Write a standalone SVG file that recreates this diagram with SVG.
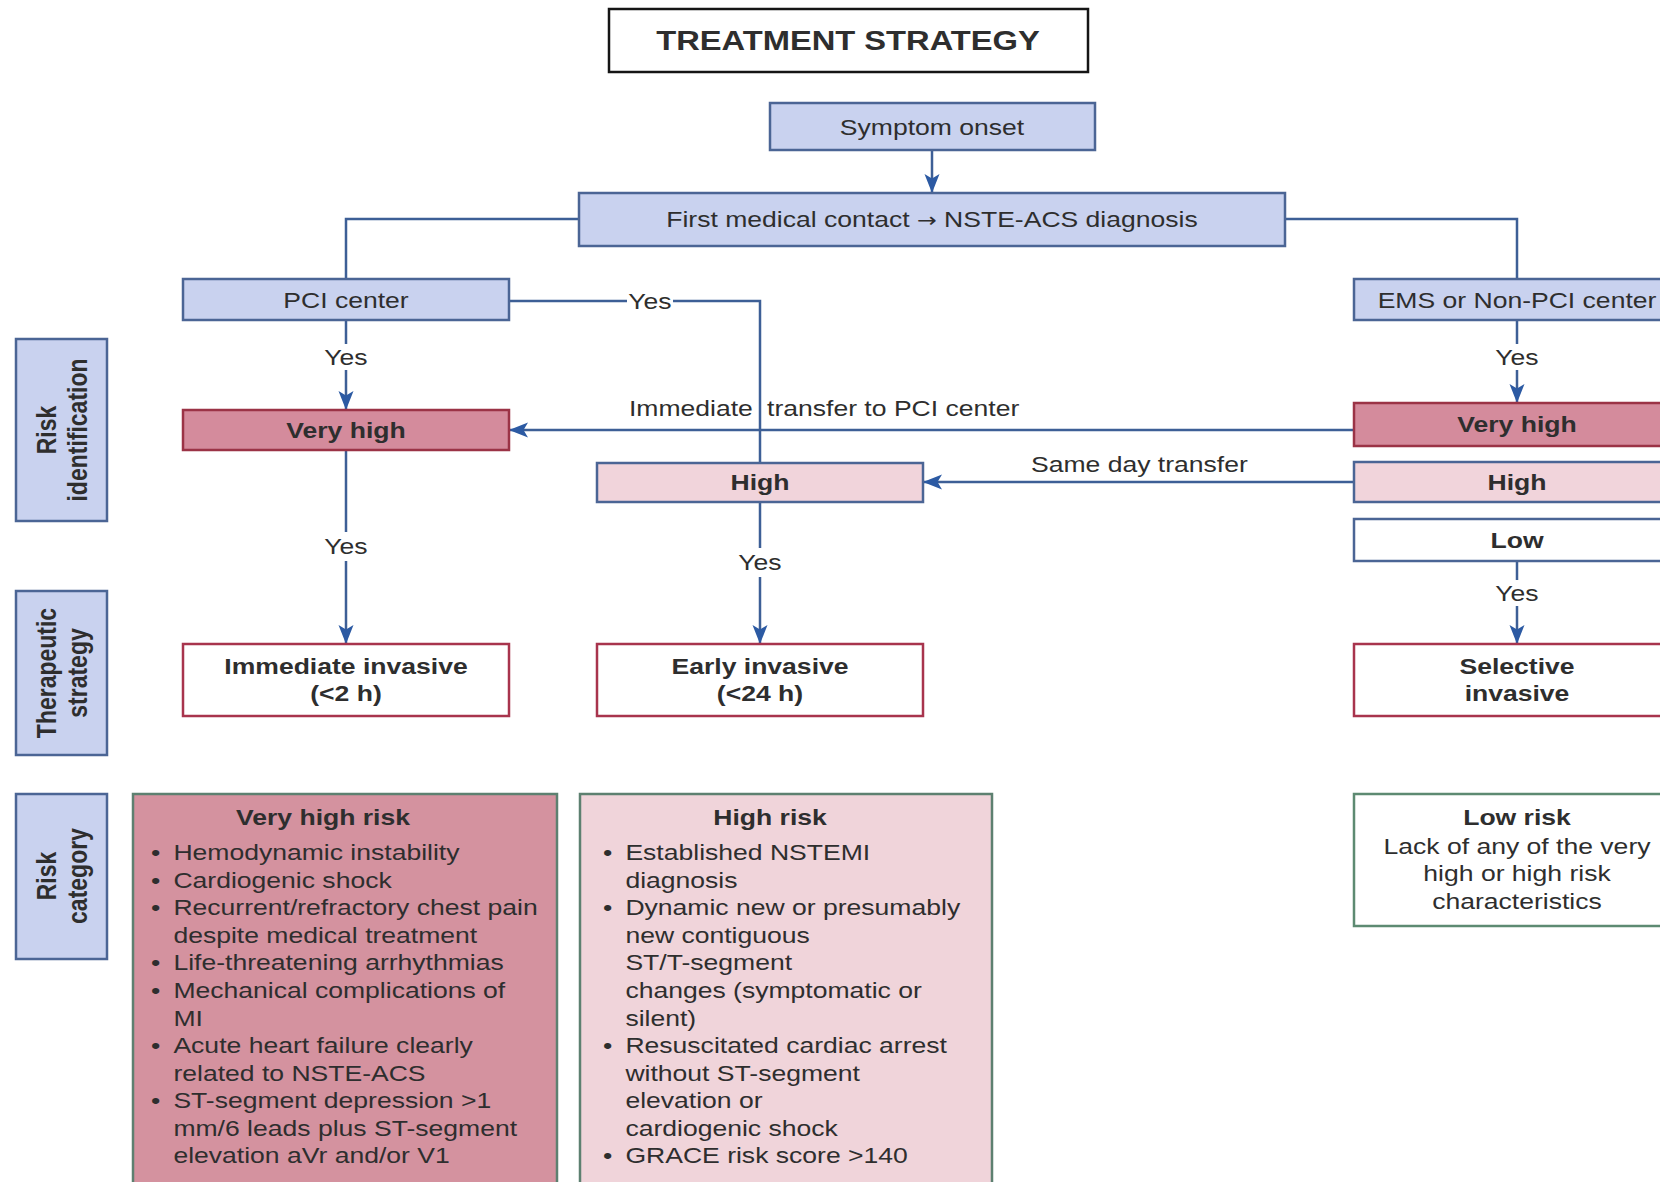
<svg xmlns="http://www.w3.org/2000/svg" width="1660" height="1182" viewBox="0 0 1660 1182">
<defs>
<style>
text{font-family:"Liberation Sans",Arial,Helvetica,sans-serif;fill:#2e2e2e;font-size:22.5px}
.c{text-anchor:middle}
.b{font-weight:bold}
.bx{stroke-width:2.5}
.blue{fill:#c9d2ef;stroke:#4b6595}
.vh{fill:#d48b9c;stroke:#9b3346}
.hi{fill:#f1d4db;stroke:#4b6595}
.lo{fill:#ffffff;stroke:#4b6595}
.inv{fill:#ffffff;stroke:#a8344d}
.cvh{fill:#d4929f;stroke:#5d8070}
.chi{fill:#f0d4da;stroke:#5d8070}
.clo{fill:#ffffff;stroke:#5d8a72}
.ln{fill:none;stroke:#3d5f96;stroke-width:2.5}
.side{font-weight:bold;font-size:23px}
.arw{font-family:"DejaVu Sans",sans-serif;font-size:20px}
</style>
<marker id="ah" markerUnits="userSpaceOnUse" markerWidth="20" markerHeight="16" refX="19" refY="8" orient="auto" viewBox="0 0 20 16">
<path d="M0,0.5 L19,8 L0,15.5 L4.5,8 z" fill="#2c5aa3"/>
</marker>
</defs>
<rect width="1660" height="1182" fill="#ffffff"/>

<g id="connectors">
<line class="ln" x1="932" y1="150" x2="932" y2="193" marker-end="url(#ah)"/>
<polyline class="ln" points="579,219 346,219 346,279"/>
<polyline class="ln" points="1285,219 1517,219 1517,279"/>
<line class="ln" x1="346" y1="320" x2="346" y2="344"/>
<line class="ln" x1="346" y1="370" x2="346" y2="410" marker-end="url(#ah)"/>
<line class="ln" x1="509" y1="301" x2="627" y2="301"/>
<polyline class="ln" points="673,301 760,301 760,463"/>
<line class="ln" x1="1354" y1="430" x2="509" y2="430" marker-end="url(#ah)"/>
<line class="ln" x1="1354" y1="482" x2="923" y2="482" marker-end="url(#ah)"/>
<line class="ln" x1="346" y1="450" x2="346" y2="532"/>
<line class="ln" x1="346" y1="561" x2="346" y2="644" marker-end="url(#ah)"/>
<line class="ln" x1="760" y1="502" x2="760" y2="548"/>
<line class="ln" x1="760" y1="577" x2="760" y2="644" marker-end="url(#ah)"/>
<line class="ln" x1="1517" y1="320" x2="1517" y2="344"/>
<line class="ln" x1="1517" y1="370" x2="1517" y2="403" marker-end="url(#ah)"/>
<line class="ln" x1="1517" y1="561" x2="1517" y2="580"/>
<line class="ln" x1="1517" y1="606" x2="1517" y2="644" marker-end="url(#ah)"/>
<text class="c" transform="translate(346 0) scale(1.18 1)" x="0" y="365">Yes</text>
<text class="c" transform="translate(650 0) scale(1.18 1)" x="0" y="309">Yes</text>
<text class="c" transform="translate(346 0) scale(1.18 1)" x="0" y="554">Yes</text>
<text class="c" transform="translate(760 0) scale(1.18 1)" x="0" y="570">Yes</text>
<text class="c" transform="translate(1517 0) scale(1.18 1)" x="0" y="365">Yes</text>
<text class="c" transform="translate(1517 0) scale(1.18 1)" x="0" y="601">Yes</text>
<text transform="translate(629 0) scale(1.18 1)" y="416"><tspan x="0">Immediate</tspan><tspan x="117">transfer to PCI center</tspan></text>
<text transform="translate(1031 0) scale(1.18 1)" x="0" y="472">Same day transfer</text>
</g>

<g id="title">
<rect x="609" y="9" width="479" height="63" fill="#ffffff" stroke="#151515" stroke-width="2.5"/>
<text class="c b" transform="translate(848 0) scale(1.18 1)" x="0" y="50" style="font-size:27.7px">TREATMENT STRATEGY</text>
</g>

<g id="symptom-onset">
<rect class="bx blue" x="770" y="103" width="325" height="47"/>
<text class="c" transform="translate(932 0) scale(1.18 1)" x="0" y="135">Symptom onset</text>
</g>

<g id="first-contact">
<rect class="bx blue" x="579" y="193" width="706" height="53"/>
<text class="c" transform="translate(932 0) scale(1.18 1)" x="0" y="227">First medical contact <tspan class="arw">→</tspan> NSTE-ACS diagnosis</text>
</g>

<g id="pci-center">
<rect class="bx blue" x="183" y="279" width="326" height="41"/>
<text class="c" transform="translate(346 0) scale(1.18 1)" x="0" y="308">PCI center</text>
</g>

<g id="ems-center">
<rect class="bx blue" x="1354" y="279" width="320" height="41"/>
<text class="c" transform="translate(1517 0) scale(1.18 1)" x="0" y="308">EMS or Non-PCI center</text>
</g>

<g id="very-high-pci">
<rect class="bx vh" x="183" y="410" width="326" height="40"/>
<text class="c b" transform="translate(346 0) scale(1.18 1)" x="0" y="438">Very high</text>
</g>

<g id="high-mid">
<rect class="bx hi" x="597" y="463" width="326" height="39"/>
<text class="c b" transform="translate(760 0) scale(1.18 1)" x="0" y="490">High</text>
</g>

<g id="very-high-ems">
<rect class="bx vh" x="1354" y="403" width="320" height="43"/>
<text class="c b" transform="translate(1517 0) scale(1.18 1)" x="0" y="432">Very high</text>
</g>

<g id="high-ems">
<rect class="bx hi" x="1354" y="462" width="320" height="40"/>
<text class="c b" transform="translate(1517 0) scale(1.18 1)" x="0" y="490">High</text>
</g>

<g id="low-ems">
<rect class="bx lo" x="1354" y="519" width="320" height="42"/>
<text class="c b" transform="translate(1517 0) scale(1.18 1)" x="0" y="548">Low</text>
</g>

<g id="immediate-invasive">
<rect class="bx inv" x="183" y="644" width="326" height="72"/>
<text class="c b" transform="translate(346 0) scale(1.18 1)"><tspan x="0" y="674">Immediate invasive</tspan><tspan x="0" y="701">(&lt;2 h)</tspan></text>
</g>

<g id="early-invasive">
<rect class="bx inv" x="597" y="644" width="326" height="72"/>
<text class="c b" transform="translate(760 0) scale(1.18 1)"><tspan x="0" y="674">Early invasive</tspan><tspan x="0" y="701">(&lt;24 h)</tspan></text>
</g>

<g id="selective-invasive">
<rect class="bx inv" x="1354" y="644" width="320" height="72"/>
<text class="c b" transform="translate(1517 0) scale(1.18 1)"><tspan x="0" y="674">Selective</tspan><tspan x="0" y="701">invasive</tspan></text>
</g>

<g id="side-risk-identification">
<rect class="bx blue" x="16" y="339" width="91" height="182"/>
<text class="c side" transform="translate(61 430) scale(1.18 1) rotate(-90)"><tspan x="0" y="-4.5">Risk</tspan><tspan x="0" y="21.8">identification</tspan></text>
</g>

<g id="side-therapeutic-strategy">
<rect class="bx blue" x="16" y="591" width="91" height="164"/>
<text class="c side" transform="translate(61 673) scale(1.18 1) rotate(-90)"><tspan x="0" y="-4.5">Therapeutic</tspan><tspan x="0" y="21.8">strategy</tspan></text>
</g>

<g id="side-risk-category">
<rect class="bx blue" x="16" y="794" width="91" height="165"/>
<text class="c side" transform="translate(61 876) scale(1.18 1) rotate(-90)"><tspan x="0" y="-4.5">Risk</tspan><tspan x="0" y="21.8">category</tspan></text>
</g>

<g id="very-high-risk">
<rect class="bx cvh" x="133" y="794" width="424" height="410"/>
<text class="c b" transform="translate(323 0) scale(1.18 1)" x="0" y="825">Very high risk</text>
<text transform="translate(151 0) scale(1.18 1)">
<tspan x="0" y="860">•</tspan><tspan x="19" y="860">Hemodynamic instability</tspan>
<tspan x="0" y="888">•</tspan><tspan x="19" y="888">Cardiogenic shock</tspan>
<tspan x="0" y="915">•</tspan><tspan x="19" y="915">Recurrent/refractory chest pain</tspan>
<tspan x="19" y="943">despite medical treatment</tspan>
<tspan x="0" y="970">•</tspan><tspan x="19" y="970">Life-threatening arrhythmias</tspan>
<tspan x="0" y="998">•</tspan><tspan x="19" y="998">Mechanical complications of</tspan>
<tspan x="19" y="1026">MI</tspan>
<tspan x="0" y="1053">•</tspan><tspan x="19" y="1053">Acute heart failure clearly</tspan>
<tspan x="19" y="1081">related to NSTE-ACS</tspan>
<tspan x="0" y="1108">•</tspan><tspan x="19" y="1108">ST-segment depression &gt;1</tspan>
<tspan x="19" y="1136">mm/6 leads plus ST-segment</tspan>
<tspan x="19" y="1163">elevation aVr and/or V1</tspan>
</text>
</g>

<g id="high-risk">
<rect class="bx chi" x="580" y="794" width="412" height="410"/>
<text class="c b" transform="translate(770 0) scale(1.18 1)" x="0" y="825">High risk</text>
<text transform="translate(603 0) scale(1.18 1)">
<tspan x="0" y="860">•</tspan><tspan x="19" y="860">Established NSTEMI</tspan>
<tspan x="19" y="888">diagnosis</tspan>
<tspan x="0" y="915">•</tspan><tspan x="19" y="915">Dynamic new or presumably</tspan>
<tspan x="19" y="943">new contiguous</tspan>
<tspan x="19" y="970">ST/T-segment</tspan>
<tspan x="19" y="998">changes (symptomatic or</tspan>
<tspan x="19" y="1026">silent)</tspan>
<tspan x="0" y="1053">•</tspan><tspan x="19" y="1053">Resuscitated cardiac arrest</tspan>
<tspan x="19" y="1081">without ST-segment</tspan>
<tspan x="19" y="1108">elevation or</tspan>
<tspan x="19" y="1136">cardiogenic shock</tspan>
<tspan x="0" y="1163">•</tspan><tspan x="19" y="1163">GRACE risk score &gt;140</tspan>
</text>
</g>

<g id="low-risk">
<rect class="bx clo" x="1354" y="794" width="320" height="132"/>
<text class="c b" transform="translate(1517 0) scale(1.18 1)" x="0" y="825">Low risk</text>
<text class="c" transform="translate(1517 0) scale(1.18 1)"><tspan x="0" y="854">Lack of any of the very</tspan><tspan x="0" y="881">high or high risk</tspan><tspan x="0" y="909">characteristics</tspan></text>
</g>
</svg>
